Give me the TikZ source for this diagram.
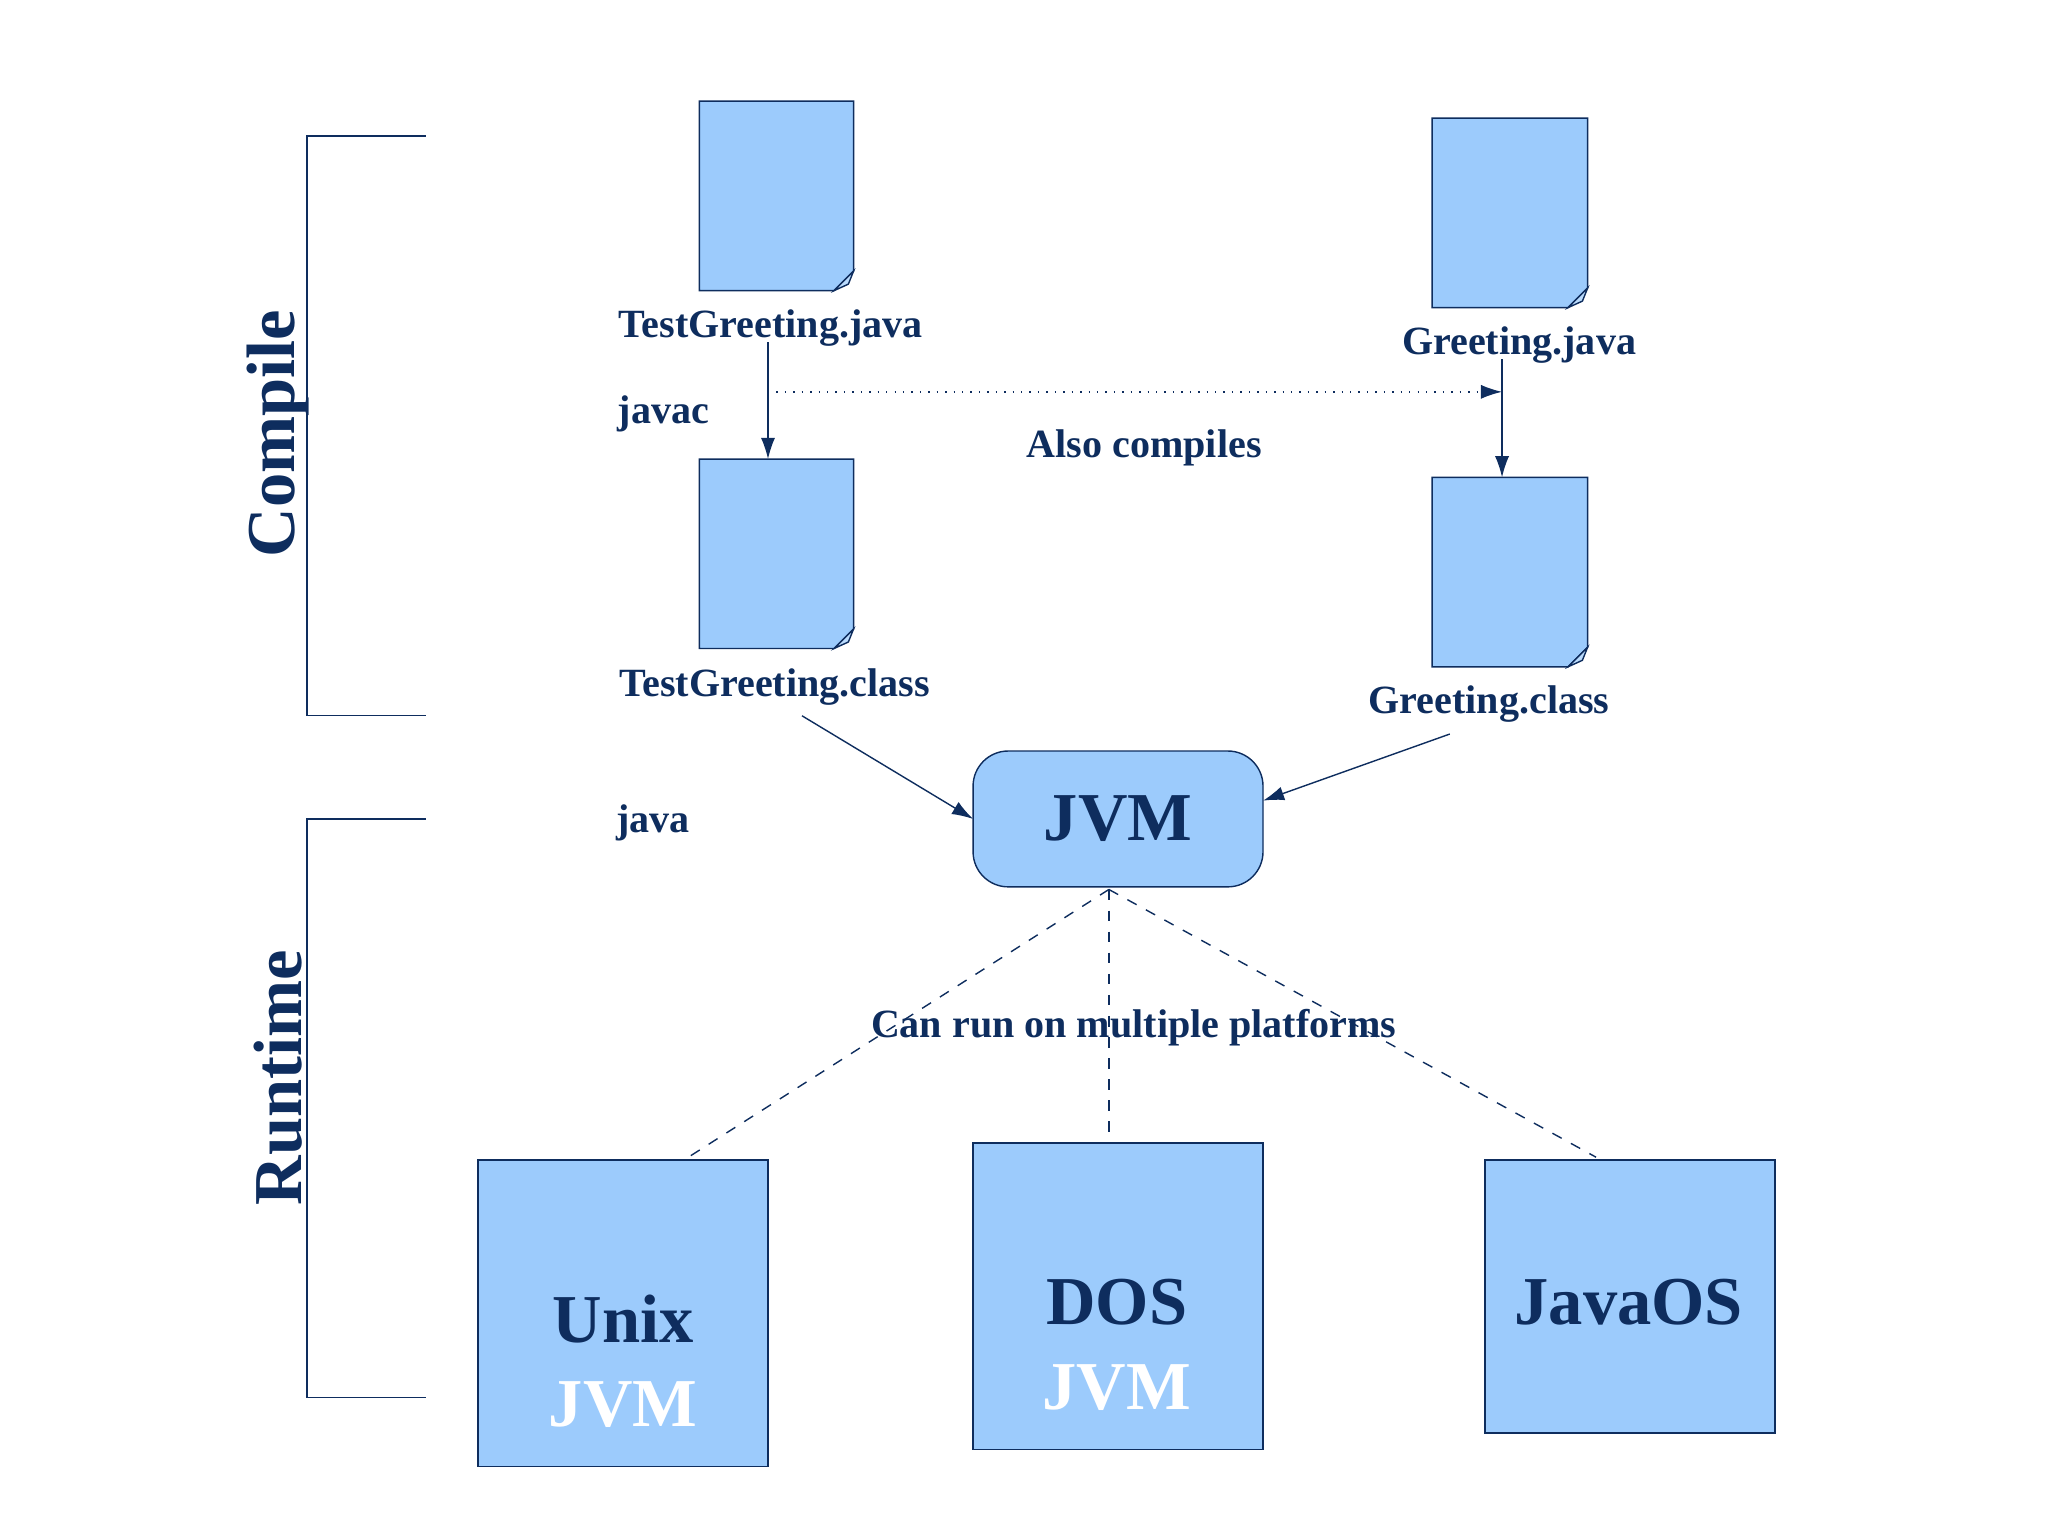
\documentclass[tikz,border=0pt]{standalone}
\usepackage{fontspec}
\setmainfont{Liberation Serif}
\usetikzlibrary{fit,arrows.meta}
\definecolor{navy}{HTML}{0E2D5E}
\definecolor{boxblue}{HTML}{9CCBFC}
\tikzstyle{lS}=[font=\bfseries\fontsize{11.4}{13}\selectfont,text=navy,inner sep=0pt]
\tikzstyle{bS}=[draw=navy,fill=boxblue,inner sep=0pt]
\tikzstyle{dS}=[inner sep=0pt]
\tikzstyle{big}=[font=\bfseries\fontsize{19.5}{23}\selectfont,inner sep=0pt]
\tikzstyle{aS}=[draw=navy,-{Latex[length=6pt,width=4pt]}]
\tikzstyle{dL}=[draw=navy,dashed,thin]
\newcommand{\docpage}[1]{%
  \draw[navy,fill=boxblue] (#1.north west) -- (#1.north east) -- ([shift={(0,-15)}]#1.south east) -- ([shift={(-15,0)}]#1.south east) -- (#1.south west) -- cycle;
  \draw[navy,fill=boxblue!70] ([shift={(-15,0)}]#1.south east) -- ([shift={(-4,-5)}]#1.south east) -- ([shift={(0,-15)}]#1.south east) -- cycle;
}
\begin{document}
\begin{tikzpicture}[x=0.01306cm,y=-0.01306cm]
    \useasboundingbox (0,0) rectangle (1568,1176);
    % brackets
    \draw[navy] (326,104) -- (235,104) -- (235,548) -- (326,548);
    \draw[navy] (326,627) -- (235,627) -- (235,1070) -- (326,1070);
    \node[big,text=navy,rotate=90] (cmp) at (213,332) {Compile};
    \node[big,text=navy,rotate=90] (rt) at (213,825) {Runtime};

    % files
    \node[dS,fit={(536,78)(653,222)}] (tgj) {};
    \node[dS,fit={(1097,91)(1215,235)}] (gj) {};
    \node[dS,fit={(536,352)(653,496)}] (tgc) {};
    \node[dS,fit={(1097,366)(1215,510)}] (gc) {};
    \docpage{tgj} \docpage{gj} \docpage{tgc} \docpage{gc}
    \node[lS] (ltgj) at (590,251) {TestGreeting.java};
    \node[lS] (lgj) at (1163,264) {Greeting.java};
    \node[lS] (ltgc) at (593,526) {TestGreeting.class};
    \node[lS] (lgc) at (1140,539) {Greeting.class};
    \node[lS] (javac) at (508,317) {javac};
    \node[lS] (java) at (500,630) {java};
    \node[lS] (also) at (876,343) {Also compiles};

    \coordinate (c1) at (588,262);
    \coordinate (c2) at (588,300);
    \coordinate (c3) at (1150,300);
    \coordinate (c4) at (1150,275);
    \draw[aS] (c1) -- (c1 |- tgc.north);
    \draw[aS] (c4) -- (c4 |- gc.north);
    \draw[aS,dotted] (c2) -- (c3);

    % JVM
    \node[bS,rounded corners=10pt,fit={(745,575)(967,679)}] (jvm) {};
    \node[big,text=navy] at (jvm) {JVM};
    \coordinate (f1) at (614,548);
    \coordinate (f2) at (1110,562);
    \draw[aS] (f1) -- (745,627);
    \draw[aS] (f2) -- (967,613);

    % platforms
    \node[bS,fit={(366,888)(588,1123)}] (unix) {};
    \node[bS,fit={(745,875)(967,1110)}] (dos) {};
    \node[bS,fit={(1137,888)(1359,1097)}] (jos) {};
    \node[big,text=navy] at (477,1010) {Unix};
    \node[big,text=white] at (477,1075) {JVM};
    \node[big,text=navy] at (855,997) {DOS};
    \node[big,text=white] at (855,1062) {JVM};
    \node[big,text=navy] at (1247,997) {JavaOS};

    \coordinate (top) at (849,681);
    \draw[dL] (top) -- (527,886);
    \draw[dL] (top) -- (top |- dos.north);
    \draw[dL] (top) -- (1222,886);
    \node[lS] (multi) at (868,787) {Can run on multiple platforms};
\end{tikzpicture}
\end{document}
